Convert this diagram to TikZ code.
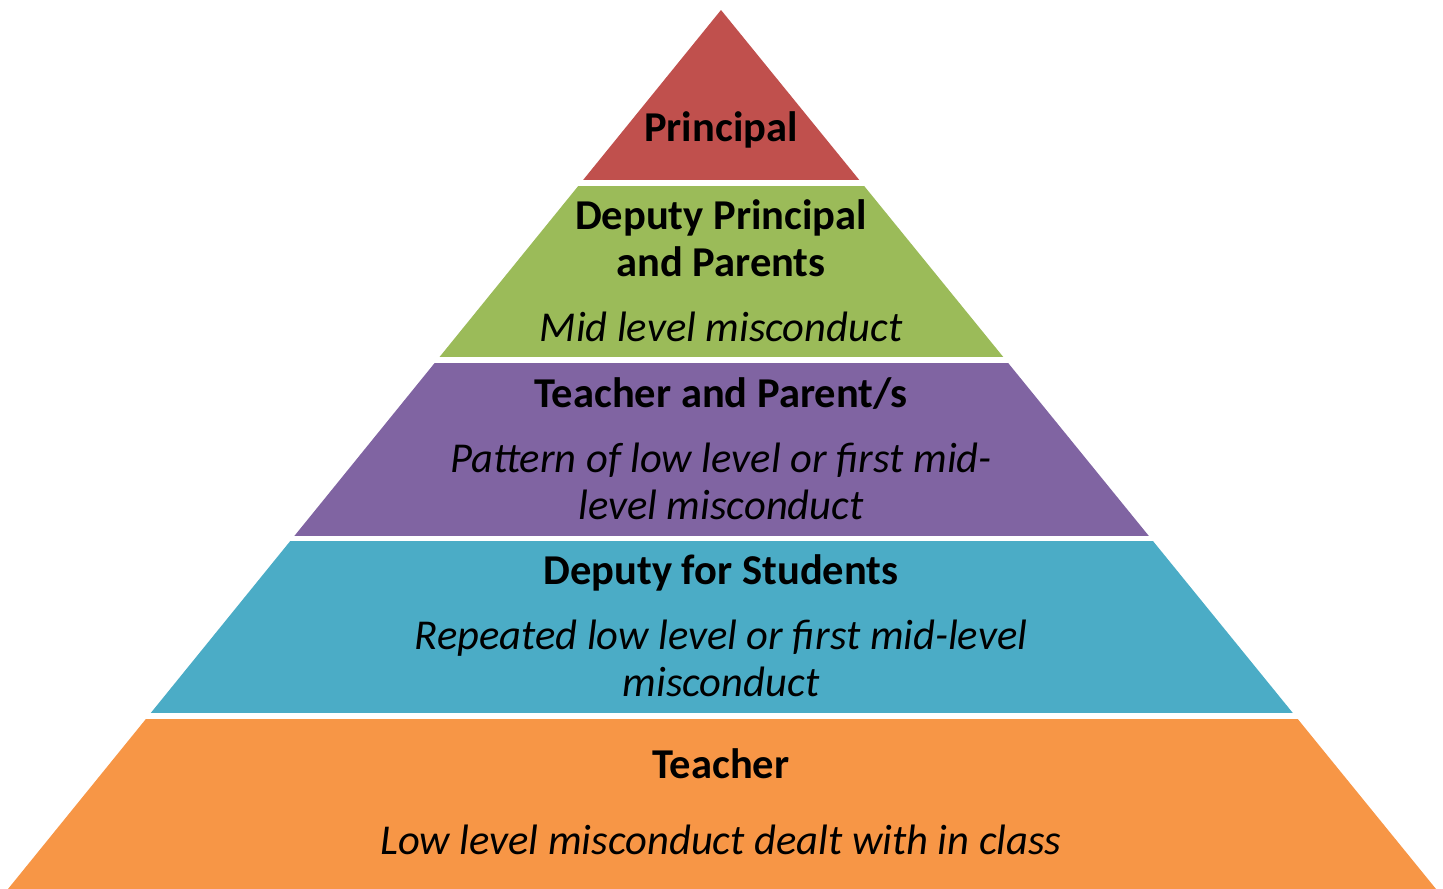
\documentclass[tikz,border=0pt]{standalone}
\usepackage{fontspec}
\setmainfont{Carlito}
\definecolor{levelred}{HTML}{C0504D}
\definecolor{levelgreen}{HTML}{9BBB59}
\definecolor{levelpurple}{HTML}{8064A2}
\definecolor{levelblue}{HTML}{4BACC6}
\definecolor{levelorange}{HTML}{F79646}
\tikzset{
  who/.style={anchor=base, align=center, inner sep=0pt, font=\fontsize{12.1}{13.4}\selectfont\bfseries},
  what/.style={anchor=base, align=center, inner sep=0pt, font=\fontsize{12.1}{13.4}\selectfont\itshape}
}
\begin{document}
\begin{tikzpicture}
\useasboundingbox (0,0) rectangle (14.43,8.89);
% the pyramid, cut into five levels
\begin{scope}
\clip (7.21,8.79) -- (0.08,0) -- (14.36,0) -- cycle;
\fill [levelred] (0,8.79) rectangle (14.43,7.09);
\fill [levelgreen] (0,7.03) rectangle (14.43,5.32);
\fill [levelpurple] (0,5.26) rectangle (14.43,3.53);
\fill [levelblue] (0,3.48) rectangle (14.43,1.76);
\fill [levelorange] (0,1.70) rectangle (14.43,0);
\end{scope}
% who deals with it
\node [who] (principal) at (7.21,7.47) {Principal};
\node [who] (deputyparents) at (7.21,6.12) {Deputy Principal\\and Parents};
\node [who] (teacherparents) at (7.21,4.81) {Teacher and Parent/s};
\node [who] (deputystudents) at (7.21,3.04) {Deputy for Students};
\node [who] (teacher) at (7.21,1.10) {Teacher};
% what kind of misconduct
\node [what] (midlevel) at (7.21,5.47) {Mid level misconduct};
\node [what] (pattern) at (7.21,3.69) {Pattern of low level or first mid-\\level misconduct};
\node [what] (repeated) at (7.21,1.92) {Repeated low level or first mid-level\\misconduct};
\node [what] (lowlevel) at (7.21,0.34) {Low level misconduct dealt with in class};
\end{tikzpicture}
\end{document}
